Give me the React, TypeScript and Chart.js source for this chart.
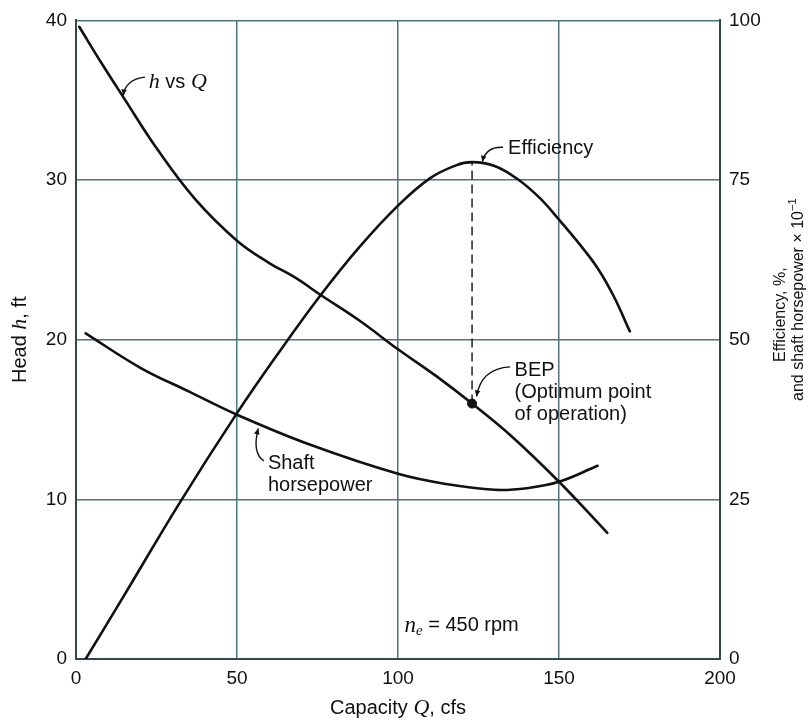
import React, { useEffect, useRef } from "react";
import { Chart, registerables } from "chart.js";

Chart.register(...registerables);

// ---- Data ----
// Head h (ft) vs capacity Q (cfs) — left axis
const headQ = [1, 8, 15, 25, 37, 50, 60, 68, 76, 88, 100, 112, 123, 135, 150, 165];
const headFt = [39.6, 37.3, 35.1, 32.0, 28.8, 26.2, 24.8, 23.9, 22.8, 21.2, 19.4, 17.7, 16.0, 14.0, 11.1, 7.9];

// Efficiency (%) vs Q — right axis
const effQ = [3, 15, 32, 50, 63, 76, 88, 100, 110, 118, 123, 130, 137, 144, 150, 156, 162, 167, 172];
const effPct = [0, 10, 24.3, 38.5, 48, 57, 64.5, 71, 75.3, 77.3, 77.8, 77.2, 75.2, 72.2, 68.8, 65.2, 61.2, 56.8, 51.3];

// Shaft horsepower x 10^-1 vs Q — right axis
const shpQ = [3, 20, 35, 50, 73, 100, 115, 130, 140, 150, 162];
const shpVal = [51, 45.6, 41.9, 38.25, 33.5, 29, 27.4, 26.5, 26.75, 27.75, 30.25];

// Best efficiency point
const bepQ = 123;
const bepHead = 16.0;
const bepPeakEff = 77.8;

// Axes
const xMin = 0, xMax = 200, xStep = 50;
const yMin = 0, yMax = 40, yStep = 10;
const y2Min = 0, y2Max = 100, y2Step = 25;

const SANS = '"Liberation Sans", Arial, Helvetica, sans-serif';
const SERIF = '"Liberation Serif", "Times New Roman", serif';
const INK = "#111111";
const GRID = "#4f7480";

type Run = { t: string; f: string; dy?: number };

const sans = (px: number) => `${px}px ${SANS}`;
const ital = (px: number) => `italic ${px}px ${SERIF}`;

function runsWidth(ctx: CanvasRenderingContext2D, runs: Run[]) {
  let w = 0;
  for (const r of runs) {
    ctx.font = r.f;
    w += ctx.measureText(r.t).width;
  }
  return w;
}

function drawRuns(ctx: CanvasRenderingContext2D, runs: Run[], x: number, y: number, align: "left" | "center") {
  ctx.textBaseline = "middle";
  ctx.textAlign = "left";
  let cx = align === "center" ? x - runsWidth(ctx, runs) / 2 : x;
  for (const r of runs) {
    ctx.font = r.f;
    ctx.fillText(r.t, cx, y + (r.dy || 0));
    cx += ctx.measureText(r.t).width;
  }
}

type Annot = {
  lines: Run[][];
  text: [number, number];
  leader: [number, number][];
};

const annotations: Annot[] = [
  {
    lines: [[{ t: "h", f: ital(22) }, { t: " vs ", f: sans(20) }, { t: "Q", f: ital(22) }]],
    text: [22.6, 36.1],
    leader: [[14.7, 35.3], [15.3, 36.3], [21.4, 36.45]],
  },
  {
    lines: [[{ t: "Efficiency", f: sans(20) }]],
    text: [134.2, 32.0],
    leader: [[126.2, 31.15], [127.3, 32.1], [132.6, 32.05]],
  },
  {
    lines: [
      [{ t: "BEP", f: sans(20) }],
      [{ t: "(Optimum point", f: sans(20) }],
      [{ t: "of operation)", f: sans(20) }],
    ],
    text: [136.2, 18.05],
    leader: [[124.4, 16.45], [125.8, 18.2], [134.8, 18.3]],
  },
  {
    lines: [[{ t: "Shaft", f: sans(20) }], [{ t: "horsepower", f: sans(20) }]],
    text: [59.6, 12.25],
    leader: [[56.6, 14.45], [54.6, 12.9], [58.4, 12.4]],
  },
  {
    lines: [[
      { t: "n", f: ital(23) },
      { t: "e", f: ital(15), dy: 6 },
      { t: " = 450 rpm", f: sans(20) },
    ]],
    text: [102.0, 2.1],
    leader: [],
  },
];

const overlayPlugin = {
  id: "overlay",
  afterDatasetsDraw(chart: any) {
    const ctx: CanvasRenderingContext2D = chart.ctx;
    const xs = chart.scales.x;
    const ys = chart.scales.y;
    const px = (q: number) => xs.getPixelForValue(q);
    const py = (h: number) => ys.getPixelForValue(h);
    ctx.save();
    ctx.fillStyle = INK;
    ctx.strokeStyle = INK;
    for (const a of annotations) {
      if (a.leader.length === 3) {
        const [s, c, e] = a.leader;
        const sx = px(s[0]), sy = py(s[1]);
        const cx = px(c[0]), cy = py(c[1]);
        const ex = px(e[0]), ey = py(e[1]);
        ctx.lineWidth = 1.4;
        ctx.beginPath();
        ctx.moveTo(sx, sy);
        ctx.quadraticCurveTo(cx, cy, ex, ey);
        ctx.stroke();
        // arrowhead at start
        const ang = Math.atan2(sy - cy, sx - cx);
        const L = 6, W = 2.8;
        ctx.beginPath();
        ctx.moveTo(sx, sy);
        ctx.lineTo(sx - L * Math.cos(ang) + W * Math.sin(ang), sy - L * Math.sin(ang) - W * Math.cos(ang));
        ctx.lineTo(sx - L * Math.cos(ang) - W * Math.sin(ang), sy - L * Math.sin(ang) + W * Math.cos(ang));
        ctx.closePath();
        ctx.fill();
      }
      const tx = px(a.text[0]);
      let ty = py(a.text[1]);
      for (const line of a.lines) {
        drawRuns(ctx, line, tx, ty, "left");
        ty += 22;
      }
    }
    ctx.restore();
  },
  afterDraw(chart: any) {
    const ctx: CanvasRenderingContext2D = chart.ctx;
    const area = chart.chartArea;
    const midY = (area.top + area.bottom) / 2;
    const midX = (area.left + area.right) / 2;
    ctx.save();
    ctx.fillStyle = INK;
    // x title
    drawRuns(ctx, [
      { t: "Capacity ", f: sans(20) },
      { t: "Q", f: ital(22) },
      { t: ", cfs", f: sans(20) },
    ], midX, area.bottom + 49, "center");
    // left title
    ctx.save();
    ctx.translate(20, midY);
    ctx.rotate(-Math.PI / 2);
    drawRuns(ctx, [
      { t: "Head ", f: sans(20) },
      { t: "h", f: ital(22) },
      { t: ", ft", f: sans(20) },
    ], 0, 0, "center");
    ctx.restore();
    // right title (two lines)
    ctx.save();
    ctx.translate(area.right + 61, midY - 25);
    ctx.rotate(-Math.PI / 2);
    drawRuns(ctx, [{ t: "Efficiency, %,", f: sans(16) }], 0, 0, "center");
    ctx.restore();
    ctx.save();
    ctx.translate(area.right + 79, midY - 40);
    ctx.rotate(-Math.PI / 2);
    drawRuns(ctx, [
      { t: "and shaft horsepower \u00D7 10", f: sans(16) },
      { t: "\u22121", f: sans(11), dy: -6 },
    ], 0, 0, "center");
    ctx.restore();
    ctx.restore();
  },
};

export default function App() {
  const canvasRef = useRef<HTMLCanvasElement | null>(null);

  useEffect(() => {
    if (!canvasRef.current) return;
    const lineBase = {
      borderColor: INK,
      borderWidth: 2.6,
      borderCapStyle: "round" as const,
      pointRadius: 0,
      fill: false,
      tension: 0.4,
    };
    const chart = new Chart(canvasRef.current, {
      type: "line",
      data: {
        datasets: [
          {
            ...lineBase,
            label: "h vs Q",
            yAxisID: "y",
            data: headQ.map((q, i) => ({ x: q, y: headFt[i] })),
          },
          {
            ...lineBase,
            label: "Efficiency",
            yAxisID: "y2",
            data: effQ.map((q, i) => ({ x: q, y: effPct[i] })),
          },
          {
            ...lineBase,
            label: "Shaft horsepower",
            yAxisID: "y2",
            data: shpQ.map((q, i) => ({ x: q, y: shpVal[i] })),
          },
          {
            label: "BEP line",
            yAxisID: "y2",
            borderColor: INK,
            borderWidth: 1.4,
            borderDash: [9, 5],
            pointRadius: 0,
            data: [
              { x: bepQ, y: (bepHead / yMax) * y2Max },
              { x: bepQ, y: bepPeakEff },
            ],
          },
          {
            label: "BEP",
            yAxisID: "y",
            showLine: false,
            pointRadius: 4.5,
            pointBackgroundColor: INK,
            pointBorderColor: INK,
            data: [{ x: bepQ, y: bepHead }],
          },
        ],
      },
      options: {
        animation: false,
        responsive: true,
        maintainAspectRatio: false,
        layout: { padding: { top: 16, left: 0, right: 0, bottom: 0 } },
        plugins: {
          legend: { display: false },
          tooltip: { enabled: false },
          title: { display: false },
        },
        scales: {
          x: {
            type: "linear",
            min: xMin,
            max: xMax,
            ticks: {
              stepSize: xStep,
              color: INK,
              font: { family: SANS, size: 19 },
              padding: 8,
              maxRotation: 0,
            },
            grid: { color: GRID, lineWidth: 1.5, drawTicks: false },
            border: { color: "#33474d", width: 2 },
            afterFit: (s: any) => { s.height = 63; },
          },
          y: {
            type: "linear",
            position: "left",
            min: yMin,
            max: yMax,
            ticks: {
              stepSize: yStep,
              color: INK,
              font: { family: SANS, size: 19 },
              padding: 9,
            },
            grid: { color: GRID, lineWidth: 1.5, drawTicks: false },
            border: { color: "#33474d", width: 2 },
            afterFit: (s: any) => { s.width = 76; },
          },
          y2: {
            type: "linear",
            position: "right",
            min: y2Min,
            max: y2Max,
            ticks: {
              stepSize: y2Step,
              color: INK,
              font: { family: SANS, size: 19 },
              padding: 9,
            },
            grid: { display: false, drawTicks: false },
            border: { color: "#33474d", width: 2 },
            afterFit: (s: any) => { s.width = 88; },
          },
        },
      },
      plugins: [overlayPlugin],
    });
    return () => chart.destroy();
  }, []);

  return (
    <div style={{ position: "absolute", left: 0, top: 0, width: 808, height: 722, background: "#ffffff" }}>
      <canvas ref={canvasRef} />
    </div>
  );
}
